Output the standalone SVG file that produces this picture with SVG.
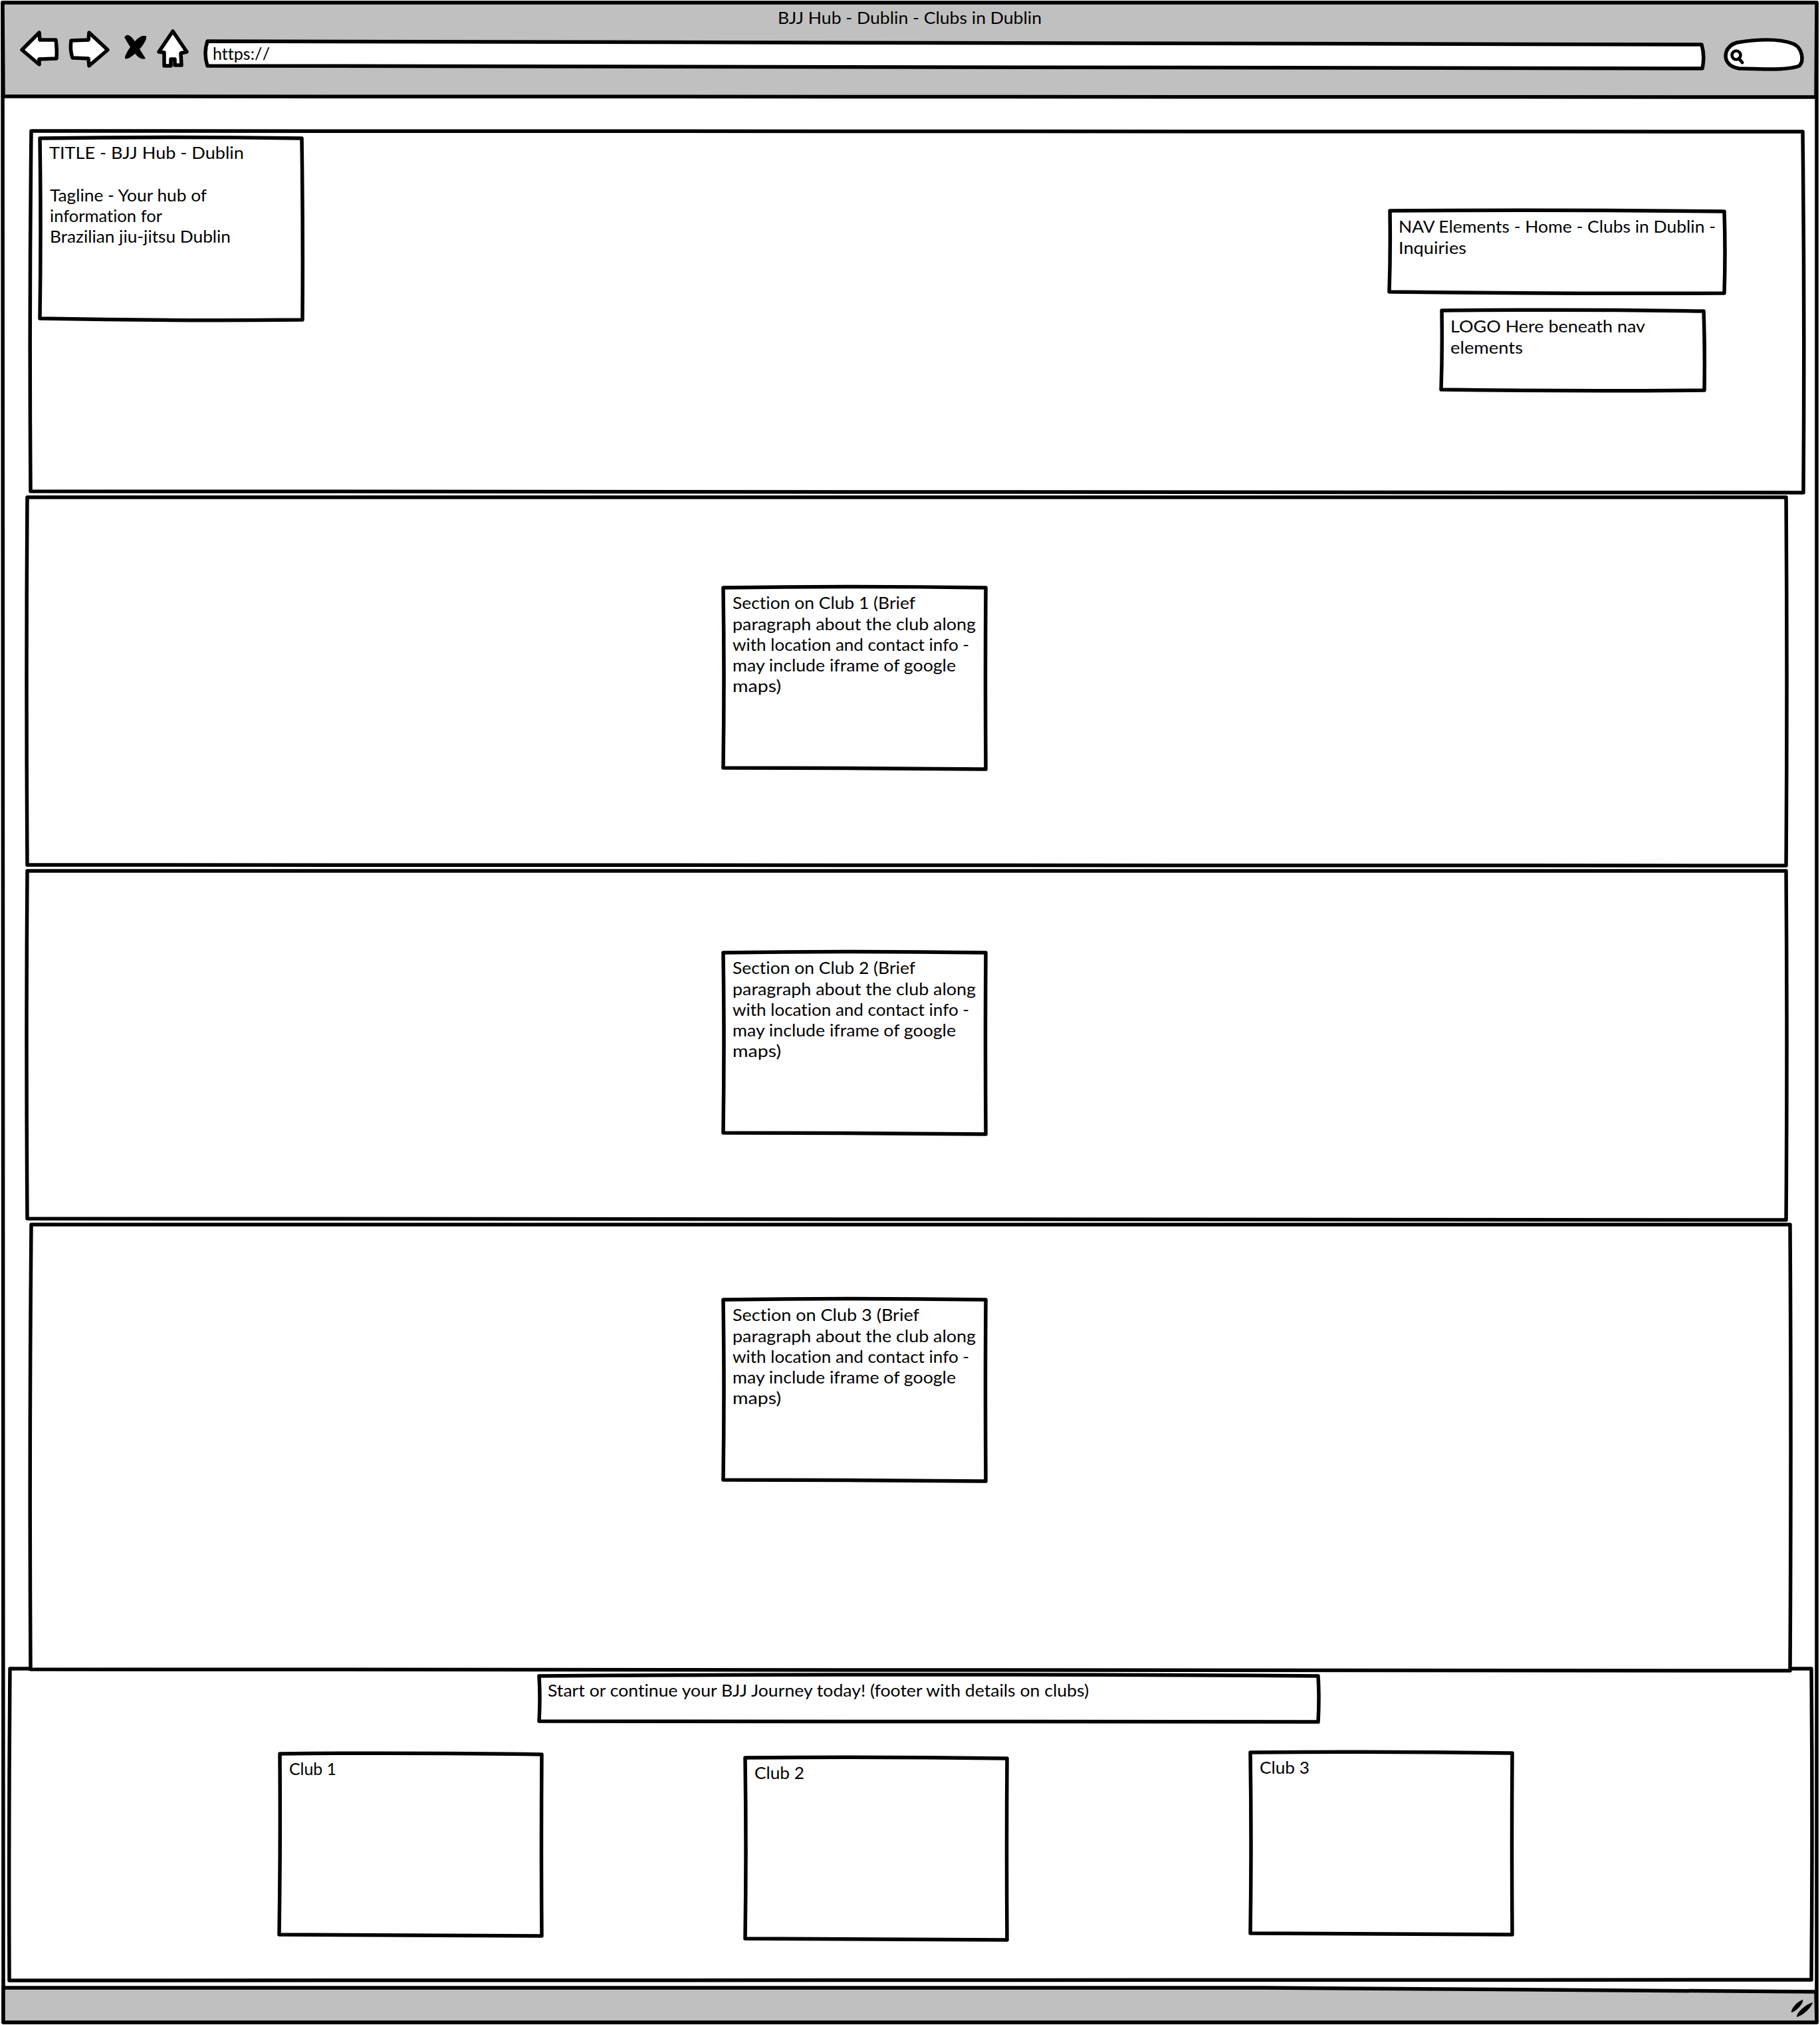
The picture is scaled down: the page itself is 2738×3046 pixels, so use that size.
<svg xmlns="http://www.w3.org/2000/svg" width="2738" height="3046" viewBox="0 0 2738 3046">
<style>
.box{fill:#fff;stroke:#000;stroke-width:5.5;stroke-linejoin:round}
.bar{fill:#c0c0c0;stroke:#000;stroke-width:5.5;stroke-linejoin:round}
.ink{fill:#000;stroke:none}
.line{fill:none;stroke:#000;stroke-width:5;stroke-linecap:round}
text{font-family:"Lato","Noto Sans",sans-serif;font-size:25px;fill:#000;font-variant-ligatures:none}
</style>
<rect width="2738" height="3046" fill="#fff"/>
<g id="browser-window">
<path class="box" d="M4 4 Q1368 3 2733 4 Q2735 1520 2733 3042 Q1368 3044 5 3042 Q3 1520 4 4Z"/>
<path class="bar" d="M4 4 Q1368 3 2733 4 L2732 146 Q1368 148 5 145Z"/>
<path class="bar" d="M5 2990 Q1000 2988 1900 2990 Q2400 2992 2732 2996 L2733 3042 Q1368 3045 5 3042Z"/>
<text x="1170" y="36" textLength="397" lengthAdjust="spacingAndGlyphs">BJJ Hub - Dublin - Clubs in Dublin</text>
</g>
<g id="back-button"><path class="box" d="M33 75 L59 49 L60 60 L84 60 Q86 75 85 88 L59 89 L59 97Z"/></g>
<g id="forward-button"><path class="box" d="M107 61 L133 60 L134 49 L162 75 L134 99 L133 88 L109 87 Q105 75 107 61Z"/></g>
<g id="stop-button">
<path class="ink" d="M190 53 C198 51 204 64 219 88 C210 92 201 80 187 56Z"/>
<path class="ink" d="M220 56 C221 53 213 52 204 61 C195 71 187 83 188 88 C194 91 208 77 214 69 C218 63 220 60 220 56Z"/>
</g>
<g id="home-button"><path class="box" d="M260 47 L281 78 L272 80 L273 98 L263 98 L263 89 L257 89 L257 99 L247 99 L247 79 L239 78Z"/></g>
<g id="address-bar">
<path class="box" d="M312 62 Q1400 63 2560 67 Q2565 85 2561 103 Q1400 101 312 99 Q306 80 312 62Z"/>
<text x="320" y="90" textLength="86" lengthAdjust="spacingAndGlyphs">https:/<tspan dx="6">/</tspan></text>
</g>
<g id="search-box">
<path class="box" d="M2613 64 C2650 58 2680 59 2698 66 C2712 72 2714 92 2707 99 C2690 106 2650 104 2616 103 C2598 100 2594 88 2597 78 C2600 70 2606 66 2613 64Z"/>
<circle cx="2612" cy="83" r="6.5" fill="none" stroke="#000" stroke-width="4.5"/>
<path class="line" d="M2616 88 L2621 94"/>
</g>
<g id="resize-grip">
<path class="ink" d="M2695 3027 C2694 3021 2705 3010 2712 3008 C2714 3013 2702 3026 2695 3027Z"/>
<path class="ink" d="M2703 3034 C2702 3028 2716 3015 2727 3012 C2726 3019 2712 3032 2703 3034Z"/>
</g>
<g id="footer">
<path class="box" d="M15 2510 Q1368 2508 2725 2510 Q2727 2744 2725 2978 Q1368 2981 14 2979 Q13 2744 15 2510Z"/>
</g>
<g id="section-header">
<path class="box" d="M47 197 Q1380 201 2712 198 Q2715 470 2713 741 Q1380 744 46 739 Q44 470 47 197Z"/>
</g>
<g id="section-club-1">
<path class="box" d="M41 748 Q1360 747 2687 748 Q2689 1025 2687 1302 Q1360 1299 41 1301 Q39 1025 41 748Z"/>
</g>
<g id="section-club-2">
<path class="box" d="M41 1310 Q1360 1308 2687 1310 Q2689 1570 2687 1835 Q1360 1832 41 1833 Q39 1570 41 1310Z"/>
</g>
<g id="section-club-3">
<path class="box" d="M47 1842 Q1360 1840 2693 1842 Q2695 2175 2693 2513 Q1360 2510 46 2511 Q44 2175 47 1842Z"/>
</g>
<g id="title-box">
<path class="box" d="M60 208 Q257 205 454 208 Q456 345 455 481 Q258 483 60 479 Q62 345 60 208Z"/>
<text x="74" y="239" textLength="293" lengthAdjust="spacingAndGlyphs">TITLE - BJJ Hub - Dublin</text>
<text x="75" y="303" textLength="236" lengthAdjust="spacingAndGlyphs">Tagline - Your hub of</text>
<text x="75" y="334" textLength="169" lengthAdjust="spacingAndGlyphs">information for</text>
<text x="75" y="365" textLength="272" lengthAdjust="spacingAndGlyphs">Brazilian jiu-jitsu Dublin</text>
</g>
<g id="nav-box">
<path class="box" d="M2091 317 Q2340 315 2594 318 Q2596 380 2594 441 Q2340 442 2090 439 Q2092 380 2091 317Z"/>
<text x="2104" y="350" textLength="477" lengthAdjust="spacingAndGlyphs">NAV Elements - Home - Clubs in Dublin -</text>
<text x="2104" y="382" textLength="102" lengthAdjust="spacingAndGlyphs">Inquiries</text>
</g>
<g id="logo-box">
<path class="box" d="M2169 467 Q2365 465 2563 468 Q2565 527 2564 587 Q2365 589 2168 586 Q2170 527 2169 467Z"/>
<text x="2182" y="500" textLength="293" lengthAdjust="spacingAndGlyphs">LOGO Here beneath nav</text>
<text x="2182" y="532" textLength="109" lengthAdjust="spacingAndGlyphs">elements</text>
</g>
<g id="club-1-info">
<path class="box" d="M1088 884 Q1285 881 1483 884 Q1482 1020 1483 1157 Q1285 1155 1088 1155 Q1090 1020 1088 884Z"/>
<text x="1102" y="916" textLength="275" lengthAdjust="spacingAndGlyphs">Section on Club 1 (Brief</text>
<text x="1102" y="948" textLength="366" lengthAdjust="spacingAndGlyphs">paragraph about the club along</text>
<text x="1102" y="979" textLength="356" lengthAdjust="spacingAndGlyphs">with location and contact info -</text>
<text x="1102" y="1010" textLength="336" lengthAdjust="spacingAndGlyphs">may include iframe of google</text>
<text x="1102" y="1041" textLength="73" lengthAdjust="spacingAndGlyphs">maps)</text>
</g>
<g id="club-2-info">
<path class="box" d="M1088 1433 Q1285 1430 1483 1433 Q1482 1569 1483 1706 Q1285 1704 1088 1704 Q1090 1569 1088 1433Z"/>
<text x="1102" y="1465" textLength="275" lengthAdjust="spacingAndGlyphs">Section on Club 2 (Brief</text>
<text x="1102" y="1497" textLength="366" lengthAdjust="spacingAndGlyphs">paragraph about the club along</text>
<text x="1102" y="1528" textLength="356" lengthAdjust="spacingAndGlyphs">with location and contact info -</text>
<text x="1102" y="1559" textLength="336" lengthAdjust="spacingAndGlyphs">may include iframe of google</text>
<text x="1102" y="1590" textLength="73" lengthAdjust="spacingAndGlyphs">maps)</text>
</g>
<g id="club-3-info">
<path class="box" d="M1088 1955 Q1285 1952 1483 1955 Q1482 2091 1483 2228 Q1285 2226 1088 2226 Q1090 2091 1088 1955Z"/>
<text x="1102" y="1987" textLength="281" lengthAdjust="spacingAndGlyphs">Section on Club 3 (Brief</text>
<text x="1102" y="2019" textLength="366" lengthAdjust="spacingAndGlyphs">paragraph about the club along</text>
<text x="1102" y="2050" textLength="356" lengthAdjust="spacingAndGlyphs">with location and contact info -</text>
<text x="1102" y="2081" textLength="336" lengthAdjust="spacingAndGlyphs">may include iframe of google</text>
<text x="1102" y="2112" textLength="73" lengthAdjust="spacingAndGlyphs">maps)</text>
</g>
<g id="footer-title">
<path class="box" d="M811 2521 Q1400 2517 1983 2521 Q1985 2555 1983 2590 Q1400 2588 811 2589 Q813 2555 811 2521Z"/>
<text x="824" y="2552" textLength="814" lengthAdjust="spacingAndGlyphs">Start or continue your BJJ Journey today! (footer with details on clubs)</text>
</g>
<g id="footer-club-1">
<path class="box" d="M421 2638 Q617 2636 815 2639 Q814 2775 815 2912 Q617 2911 420 2910 Q422 2775 421 2638Z"/>
<text x="435" y="2670" textLength="71" lengthAdjust="spacingAndGlyphs">Club 1</text>
</g>
<g id="footer-club-2">
<path class="box" d="M1121 2644 Q1318 2642 1515 2645 Q1514 2781 1515 2918 Q1318 2917 1121 2916 Q1123 2781 1121 2644Z"/>
<text x="1135" y="2676" textLength="75" lengthAdjust="spacingAndGlyphs">Club 2</text>
</g>
<g id="footer-club-3">
<path class="box" d="M1881 2636 Q2078 2634 2275 2637 Q2274 2773 2275 2910 Q2078 2909 1881 2908 Q1883 2773 1881 2636Z"/>
<text x="1895" y="2668" textLength="75" lengthAdjust="spacingAndGlyphs">Club 3</text>
</g>
</svg>
